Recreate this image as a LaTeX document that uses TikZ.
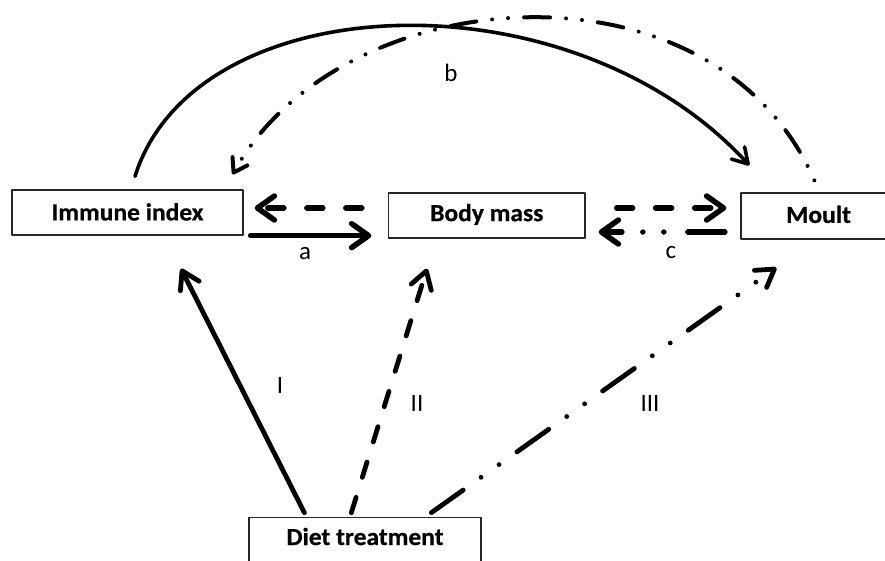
\documentclass[tikz,border=0pt]{standalone}
\usepackage{fontspec}
\setmainfont{Carlito}
\newfontfamily\boxfont{Carlito}[FakeStretch=1.04,BoldFeatures={FakeBold=0.6}]
\usetikzlibrary{arrows.meta,calc}
\begin{document}
\begin{tikzpicture}[x=1pt,y=-1pt,line cap=round,line join=round,
  box/.style={draw=black!85,line width=1.3pt,inner sep=0pt,text height=15.8pt,text depth=0pt,
    minimum height=45pt,font=\boxfont\fontsize{24.5}{28}\selectfont\bfseries},
  lbl/.style={inner sep=0pt,font=\fontsize{25}{29}\selectfont},
  horiz/.style={line width=5.5pt,-{Straight Barb[length=17pt,width=24pt,round]}},
  lower/.style={line width=4.8pt,-{Straight Barb[length=17pt,width=21pt,round]}},
  dashline/.style={dash pattern=on 16pt off 23pt},
  steepdash/.style={dash pattern=on 16pt off 21pt},
  dddlower/.style={dash pattern=on 39pt off 22pt on 0pt off 22pt on 0pt off 22pt},
  dddhoriz/.style={dash pattern=on 37pt off 24pt on 0pt off 21pt on 0pt off 21pt},
  solidcurve/.style={line width=3.6pt,-{Straight Barb[length=15pt,width=18pt,round]}},
  ddcurve/.style={line width=4pt,dash pattern=on 26pt off 16pt on 0pt off 16pt on 0pt off 16pt,
    dash phase=42pt,-{Straight Barb[length=13pt,width=17pt,round]}}
]
\useasboundingbox (0,0) rectangle (885,560);
\clip (0,0) rectangle (885,560);

% boxes
\node[box,minimum width=231pt] (imm) at (127.5,212.5) {Immune index};
\node[box,minimum width=196.5pt,text depth=4.6pt] (body) at (486.75,215.5) {Body mass};
\node[box,minimum width=155pt,minimum height=46pt,text depth=2pt] (moult) at (818.5,216) {Moult};
\node[box,minimum width=232pt,text height=27.7pt,text depth=20pt,anchor=base] (diet) at (365,545) {Diet treatment};

% horizontal arrows
\draw[horiz] ([shift={(7,0)}]imm.south east) -- ([shift={(-16.5,-3)}]body.south west);
\draw[horiz,dashline] ([shift={(-26,-7.5)}]body.west) -- ([shift={(11,-4.5)}]imm.east);
\draw[horiz,dashline] ([shift={(31,-7.5)}]body.east) -- ([shift={(-14,-8)}]moult.west);
\draw[horiz,dddhoriz] ([shift={(-15.5,16)}]moult.west) -- ([shift={(13,16.5)}]body.east);

% curved arrows
\draw[solidcurve] ([shift={(7.5,-13)}]imm.north) .. controls (195,-15) and (570,-30) .. ([shift={(9,-27)}]moult.north west);
\draw[ddcurve] ([shift={(74,-12)}]moult.north west) .. controls (714,-50) and (341,-21) .. ([shift={(-11,-15)}]imm.north east);

% diet arrows
\draw[lower] ([shift={(56,-4)}]diet.north west) -- ([shift={(53.5,33)}]imm.south);
\draw[lower,steepdash] ([shift={(103,-4)}]diet.north west) -- ([shift={(-59.75,30)}]body.south);
\draw[lower,dddlower] ([shift={(183,-4)}]diet.north west) -- ([shift={(36,28)}]moult.south west);

% labels
\node[lbl] (la) at (305,254) {a};
\node[lbl] (lb) at (451,72.5) {b};
\node[lbl] (lc) at (671,252.5) {c};
\node[lbl] (l1) at (280,385) {I};
\node[lbl] (l2) at (417,403) {II};
\node[lbl] (l3) at (650,403) {III};
\end{tikzpicture}
\end{document}
